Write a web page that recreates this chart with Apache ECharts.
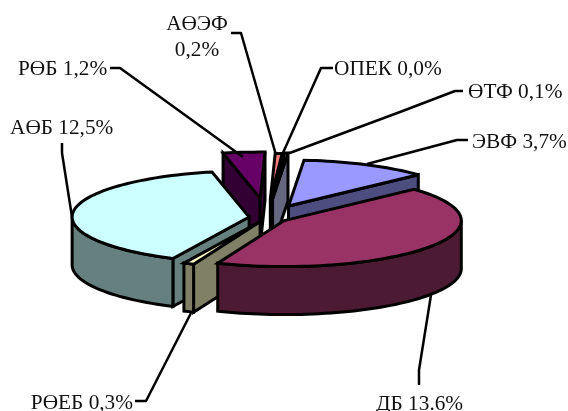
<!DOCTYPE html>
<html>
<head>
<meta charset="utf-8">
<style>html,body{margin:0;padding:0;background:#fff}#c{width:568px;height:411px}</style>
<script src="https://cdn.jsdelivr.net/npm/echarts@6/dist/echarts.min.js"></script>
</head>
<body>
<div id="c"></div>
<script>
// Data
var categories = ['ЭВФ', 'ДБ', 'РӨЕБ', 'АӨБ', 'РӨБ', 'АӨЭФ', 'ОПЕК', 'ӨТФ'];
var values = [3.7, 13.6, 0.3, 12.5, 1.2, 0.2, 0.0, 0.1];
var labelLines = [['ЭВФ 3,7%'], ['ДБ 13.6%'], ['РӨЕБ 0,3%'], ['АӨБ 12,5%'], ['РӨБ 1,2%'], ['АӨЭФ', '0,2%'], ['ОПЕК 0,0%'], ['ӨТФ 0,1%']];

// Styles and layout
var topColors = ['#9999FF', '#993366', '#FFFFCC', '#CCFFFF', '#660066', '#FF8080', '#0066CC', '#CCCCFF'];
var wallColors = ['#4D4D80', '#4D1A33', '#808066', '#668080', '#330033', '#804040', '#003366', '#666680'];
var explode = [49, 21, 17, 18, 75, 70, 71, 72];
var drawOrder = [4, 5, 6, 7, 0, 3, 2, 1];
var CX = 267, CY = 217.5, RX = 177, RY = 46, DEPTH = 48, START = -85;
var LW = 3, FONT = '21.3px "Liberation Serif"';
var textPos = [
  [[472, 142]], [[376, 404]], [[133, 403, 'right']], [[10, 128]], [[18, 69]],
  [[197, 24, 'center'], [197, 50, 'center']], [[334, 69]], [[468, 92]]
];
var leaders = [
  [[468,140],[457,140],[367,164]],
  [[419,385],[419,370],[431,295]],
  [[135,401],[146,401],[191,313]],
  [[62,143],[62,153],[72,217]],
  [[110,68],[120,68],[243,157]],
  [[231,33],[241,33],[276,155]],
  [[333,68],[321,68],[282,155]],
  [[463,91],[455,91],[400,112],[287,154]]
];

var total = values.reduce(function (a, b) { return a + b; }, 0);
var slices = [], acc = START;
values.forEach(function (v, i) {
  var a0 = acc, a1 = acc + v / total * 360, mid = (a0 + a1) / 2 * Math.PI / 180;
  acc = a1;
  slices.push({
    a0: a0, a1: a1,
    ax: CX + explode[i] * Math.cos(mid),
    ay: CY + explode[i] * Math.sin(mid) * RY / RX
  });
});
function rim(s, deg, dz) {
  var r = deg * Math.PI / 180;
  return [s.ax + RX * Math.cos(r), s.ay + RY * Math.sin(r) + (dz || 0)];
}
function arc(s, from, to, dz) {
  var pts = [], n = Math.max(1, Math.ceil(Math.abs(to - from) / 2));
  for (var k = 0; k <= n; k++) pts.push(rim(s, from + (to - from) * k / n, dz));
  return pts;
}
function poly(points, fill) {
  return {
    type: 'polygon', shape: { points: points },
    style: { fill: fill, stroke: '#000', lineWidth: LW, lineJoin: 'miter', miterLimit: 4 }
  };
}
function cutWall(s, deg, fill) {
  var r = rim(s, deg);
  return poly([[s.ax, s.ay], r, [r[0], r[1] + DEPTH], [s.ax, s.ay + DEPTH]], fill);
}
function renderSlice(params, api) {
  var i = api.value(0), s = slices[i], kids = [];
  if (Math.cos(s.a0 * Math.PI / 180) < 0) kids.push(cutWall(s, s.a0, wallColors[i]));
  if (Math.cos(s.a1 * Math.PI / 180) > 0) kids.push(cutWall(s, s.a1, wallColors[i]));
  var f = Math.max(s.a0, 0), t = Math.min(s.a1, 180);
  if (t > f) kids.push(poly(arc(s, f, t, 0).concat(arc(s, t, f, DEPTH)), wallColors[i]));
  kids.push(poly([[s.ax, s.ay]].concat(arc(s, s.a0, s.a1, 0)), topColors[i]));
  return { type: 'group', children: kids };
}
function renderLabel(params, api) {
  var i = api.value(0), kids = [{
    type: 'polyline', shape: { points: leaders[i] },
    style: { fill: 'none', stroke: '#000', lineWidth: 2.5, lineJoin: 'round' }
  }];
  labelLines[i].forEach(function (line, k) {
    var p = textPos[i][k];
    kids.push({
      type: 'text',
      style: {
        text: line, x: p[0], y: p[1], font: FONT, fill: '#111',
        textAlign: p[2] || 'left', textVerticalAlign: 'middle'
      }
    });
  });
  return { type: 'group', children: kids };
}
var chart = echarts.init(document.getElementById('c'), null, { renderer: 'canvas', width: 568, height: 411 });
chart.setOption({
  animation: false,
  backgroundColor: '#fff',
  series: [
    {
      type: 'custom', coordinateSystem: 'none', silent: true, z: 2,
      renderItem: renderSlice,
      data: drawOrder.map(function (i) { return { name: categories[i], value: [i, values[i]] }; })
    },
    {
      type: 'custom', coordinateSystem: 'none', silent: true, z: 3,
      renderItem: renderLabel,
      data: categories.map(function (c, i) { return { name: c, value: [i, values[i]] }; })
    }
  ]
});
</script>
</body>
</html>
